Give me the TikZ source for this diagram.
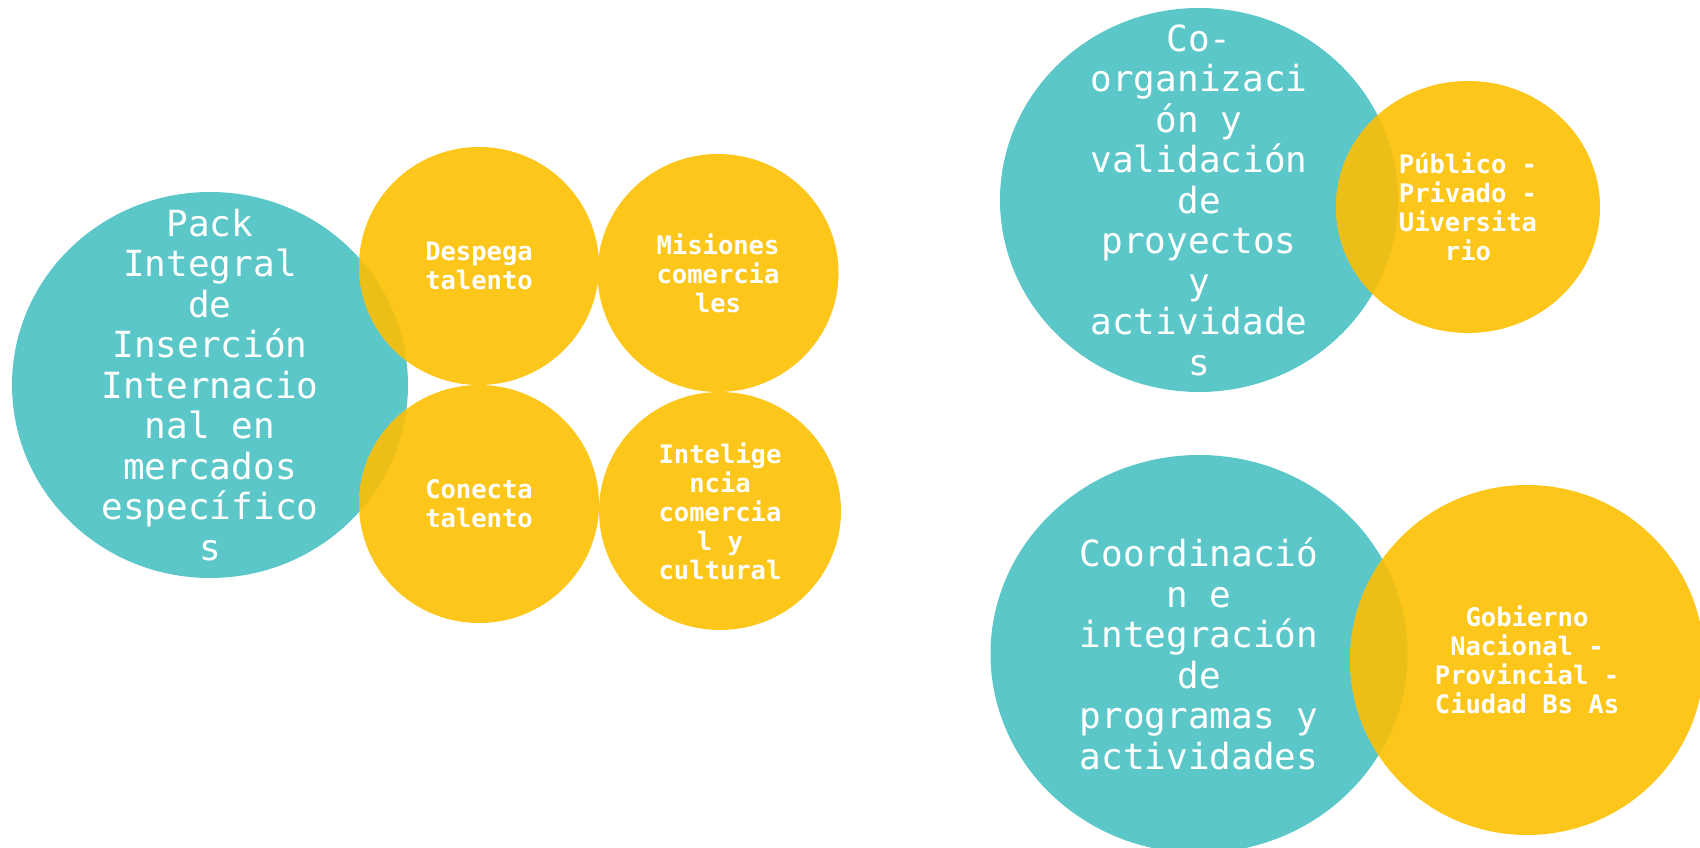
\documentclass[tikz,border=0pt]{standalone}
\usepackage{fontspec}
\setmonofont{DejaVu Sans Mono}
\usetikzlibrary{shapes.geometric}
\definecolor{tealc}{HTML}{5BC7C9}
\definecolor{yellc}{HTML}{FCC61B}
\definecolor{overc}{HTML}{EBBF17}
\tikzset{
  teal/.style={ellipse, inner sep=0pt, fill=tealc, draw=none},
  yell/.style={ellipse, inner sep=0pt, fill=yellc, draw=none},
  bigtxt/.style={align=center, text=white, inner sep=0pt, font=\ttfamily\fontsize{36}{40.5}\selectfont},
  smalltxt/.style={align=center, text=white, inner sep=0pt, font=\ttfamily\bfseries\fontsize{25.5}{29}\selectfont}
}
\begin{document}
\begin{tikzpicture}[x=1pt,y=1pt]
\useasboundingbox (0,0) rectangle (1700,848);
% teal circles
\node[teal, minimum width=396, minimum height=386] (pack) at (210,463) {};
\node[teal, minimum width=398, minimum height=384] (coorg) at (1199,648) {};
\node[teal, minimum width=417, minimum height=398] (coord) at (1199,194) {};
% yellow circles
\node[yell, minimum width=240, minimum height=238] (desp) at (479,582) {};
\node[yell, minimum width=241, minimum height=238] (mis) at (718,575) {};
\node[yell, minimum width=240, minimum height=238] (conec) at (479,344) {};
\node[yell, minimum width=242, minimum height=238] (intel) at (720,337) {};
\node[yell, minimum width=264, minimum height=252] (pub) at (1468,641) {};
\node[yell, minimum width=354, minimum height=350] (gob) at (1527,188) {};
% overlaps
\begin{scope}
  \clip (pack.center) ellipse [x radius=198, y radius=193];
  \fill[overc] (desp.center) ellipse [x radius=120, y radius=119];
  \fill[overc] (conec.center) ellipse [x radius=120, y radius=119];
\end{scope}
\begin{scope}
  \clip (coorg.center) ellipse [x radius=199, y radius=192];
  \fill[overc] (pub.center) ellipse [x radius=132, y radius=126];
\end{scope}
\begin{scope}
  \clip (coord.center) ellipse [x radius=208.5, y radius=199];
  \fill[overc] (gob.center) ellipse [x radius=177, y radius=175];
\end{scope}
% texts
\node[bigtxt] (tpack) at (pack.center) {Pack\\Integral\\de\\Inserción\\Internacio\\nal en\\mercados\\específico\\s};
\node[bigtxt] (tcoorg) at (coorg.center) {Co-\\organizaci\\ón y\\validación\\de\\proyectos\\y\\actividade\\s};
\node[bigtxt] (tcoord) at (coord.center) {Coordinació\\n e\\integración\\de\\programas y\\actividades};
\node[smalltxt] (tdesp) at (desp.center) {Despega\\talento};
\node[smalltxt] (tmis) at (mis.center) {Misiones\\comercia\\les};
\node[smalltxt] (tconec) at (conec.center) {Conecta\\talento};
\node[smalltxt] (tintel) at (intel.center) {Intelige\\ncia\\comercia\\l y\\cultural};
\node[smalltxt] (tpub) at (pub.center) {Público -\\Privado -\\Uiversita\\rio};
\node[smalltxt] (tgob) at (gob.center) {Gobierno\\Nacional -\\Provincial -\\Ciudad Bs As};
\end{tikzpicture}
\end{document}
